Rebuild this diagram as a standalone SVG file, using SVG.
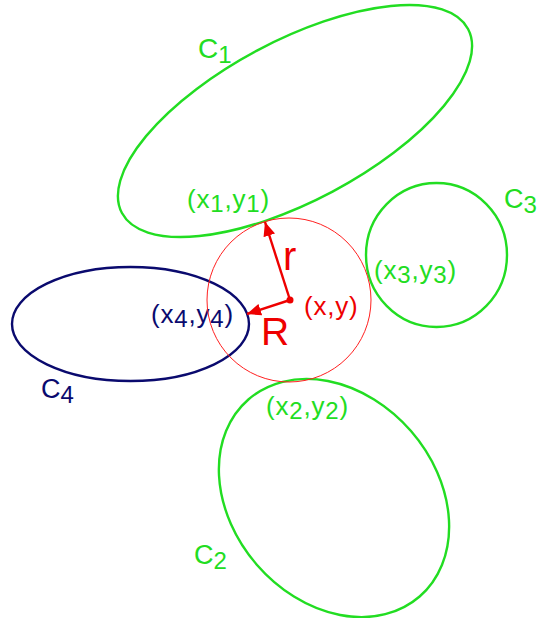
<svg xmlns="http://www.w3.org/2000/svg" width="540" height="618" viewBox="0 0 540 618">
<style>
  .green { fill: none; stroke: #22dd22; stroke-width: 2.4; }
  .navy { fill: none; stroke: #0a0a6e; stroke-width: 2.4; }
  .redc { fill: none; stroke: #ff2020; stroke-width: 1; }
  .arrow { stroke: #ee0000; stroke-width: 2.4; fill: none; }
  text { font-family: "Liberation Sans", Arial, Helvetica, sans-serif; }
  .lg { fill: #22dd22; }
  .ln { fill: #0a0a6e; }
  .lr { fill: #ee0000; }
  .coord { font-size: 26px; letter-spacing: 0.8px; }
  .cname { font-size: 27px; }
  .sub { font-size: 24px; }
</style>
<defs>
  <marker id="head" markerUnits="userSpaceOnUse" markerWidth="16" markerHeight="12" refX="14" refY="6" orient="auto">
    <path d="M0,0 L14,6 L0,12 Z" fill="#ee0000"/>
  </marker>
</defs>
<rect width="540" height="618" fill="#ffffff"/>

<g id="c1">
  <ellipse class="green" cx="295" cy="121" rx="196" ry="80" transform="rotate(-28 295 121)"/>
  <text class="lg cname" x="198" y="58" style="font-size:28px">C<tspan class="sub" dy="5">1</tspan></text>
  <text class="lg coord" x="187" y="208">(x<tspan class="sub" dy="4">1</tspan><tspan dy="-4">,y</tspan><tspan class="sub" dy="4">1</tspan><tspan dy="-4">)</tspan></text>
</g>

<g id="c3">
  <ellipse class="green" cx="436.5" cy="255" rx="70.5" ry="72"/>
  <text class="lg cname" x="504" y="208">C<tspan class="sub" dy="5">3</tspan></text>
  <text class="lg coord" x="374" y="279">(x<tspan class="sub" dy="4">3</tspan><tspan dy="-4">,y</tspan><tspan class="sub" dy="4">3</tspan><tspan dy="-4">)</tspan></text>
</g>

<g id="c2">
  <ellipse class="green" cx="334" cy="498" rx="130.5" ry="102" transform="rotate(49 334 498)"/>
  <text class="lg cname" x="194" y="564">C<tspan class="sub" dy="5">2</tspan></text>
  <text class="lg coord" x="266" y="415">(x<tspan class="sub" dy="4">2</tspan><tspan dy="-4">,y</tspan><tspan class="sub" dy="4">2</tspan><tspan dy="-4">)</tspan></text>
</g>

<g id="c4">
  <ellipse class="navy" cx="130.5" cy="324" rx="118.5" ry="57"/>
  <text class="ln cname" x="41" y="398">C<tspan class="sub" dy="5">4</tspan></text>
  <text class="ln coord" x="151" y="323">(x<tspan class="sub" dy="4">4</tspan><tspan dy="-4">,y</tspan><tspan class="sub" dy="4">4</tspan><tspan dy="-4">)</tspan></text>
</g>

<g id="circle">
  <circle class="redc" cx="289" cy="300" r="82"/>
  <circle cx="290" cy="300" r="3.5" fill="#ee0000"/>
  <text class="lr coord" x="304" y="315">(x,y)</text>
  <text class="lr" x="283" y="270" style="font-size:40px">r</text>
  <text class="lr" x="261" y="345" style="font-size:39px">R</text>
</g>

<g id="connectors">
  <line class="arrow" x1="290" y1="300" x2="265" y2="222" marker-end="url(#head)"/>
  <line class="arrow" x1="290" y1="300" x2="247" y2="314" marker-end="url(#head)"/>
</g>
</svg>
